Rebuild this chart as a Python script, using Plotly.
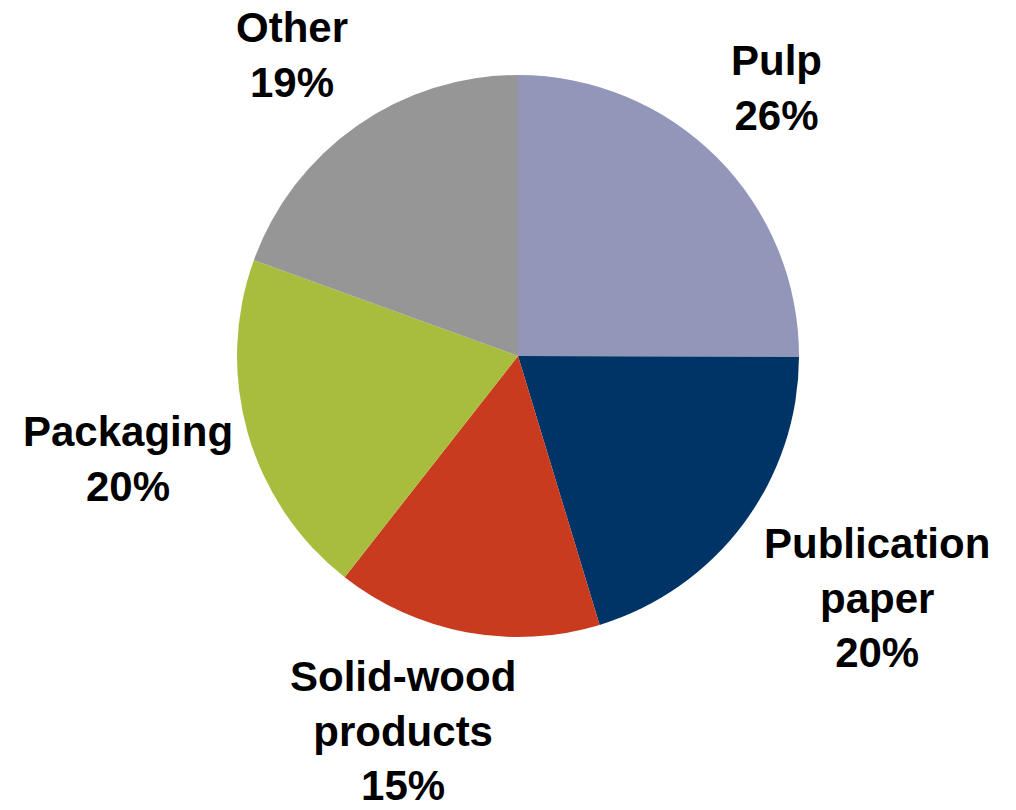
import plotly.graph_objects as go

categories = ["Pulp", "Publication<br>paper", "Solid-wood<br>products", "Packaging", "Other"]
shares = [25.1, 20.3, 15.3, 20.0, 19.5]
pct_labels = ["26%", "20%", "15%", "20%", "19%"]
colors = ["#9296B9", "#003366", "#C93B1E", "#A8BD3D", "#969696"]

# label centre positions in pixels (x, y from top)
label_pos = [(776, 88), (877, 598), (403, 731), (128, 459), (292, 55)]

W, H = 1016, 810
cx, cy, r = 518, 356, 281

fig = go.Figure(go.Pie(
    labels=categories,
    values=shares,
    sort=False,
    direction="clockwise",
    rotation=0,
    marker=dict(colors=colors, line=dict(width=0)),
    textinfo="none",
    hoverinfo="label+percent",
    domain=dict(x=[(cx - r) / W, (cx + r) / W], y=[1 - (cy + r) / H, 1 - (cy - r) / H]),
    showlegend=False,
))

for cat, pct, (px, py) in zip(categories, pct_labels, label_pos):
    fig.add_annotation(
        x=px / W, y=1 - py / H, xref="paper", yref="paper",
        text=f"<b>{cat}<br>{pct}</b>", showarrow=False,
        font=dict(family="Liberation Sans, Arial", size=42, color="black"),
        xanchor="center", yanchor="middle", align="center",
    )

fig.update_layout(
    width=W, height=H,
    margin=dict(l=0, r=0, t=0, b=0),
    paper_bgcolor="white", plot_bgcolor="white",
)

fig.write_html("out.html")
